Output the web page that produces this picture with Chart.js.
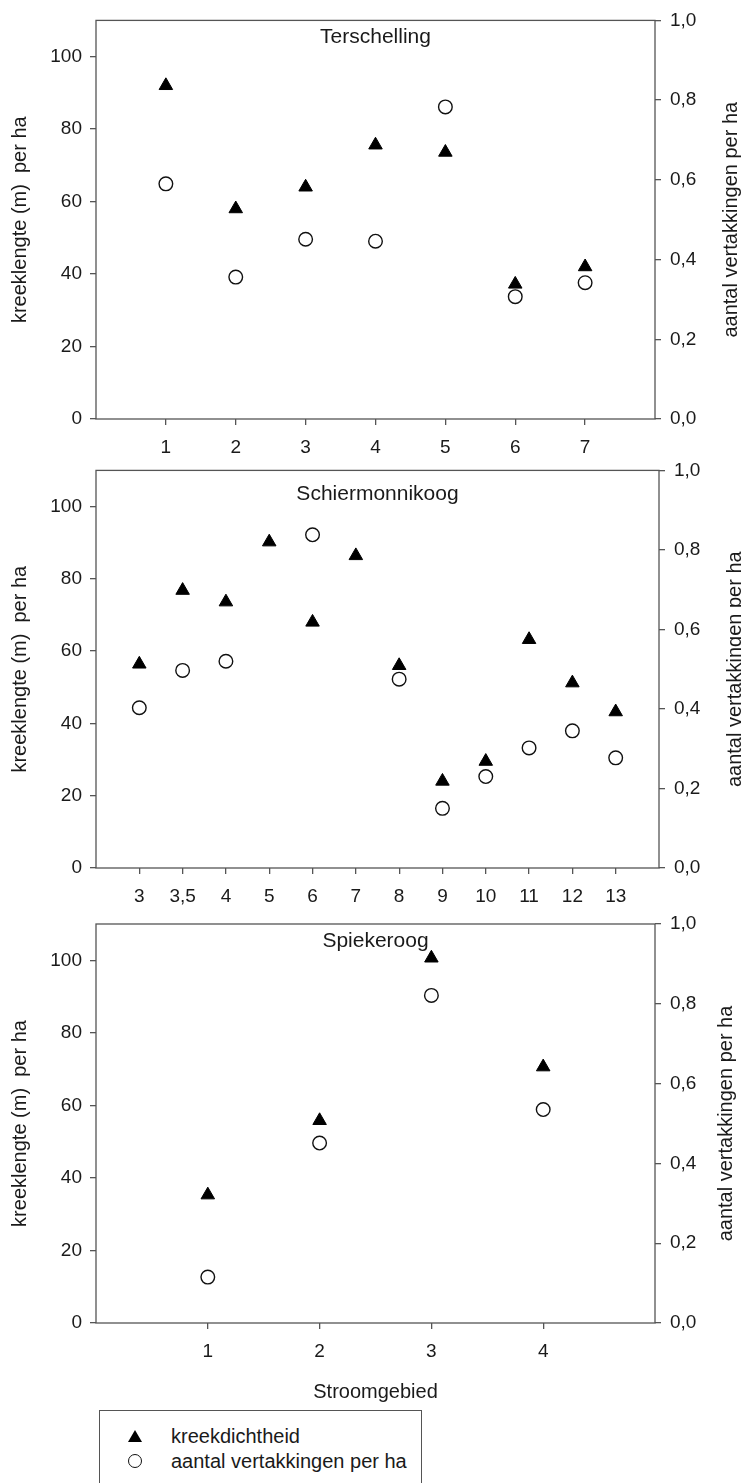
<!DOCTYPE html>
<html>
<head>
<meta charset="utf-8">
<script src="https://cdn.jsdelivr.net/npm/chart.js@4.4.1/dist/chart.umd.min.js"></script>
<style>
  body { margin: 0; background: #fff; width: 741px; height: 1483px; position: relative; overflow: hidden;
         font-family: "Liberation Sans", Arial, sans-serif; color: #1a1a1a; }
  canvas { position: absolute; left: 0; }
  #legend { position: absolute; left: 99px; top: 1410px; width: 323px; height: 100px;
            border: 1.3px solid #555; box-sizing: border-box; }
  .item { position: absolute; left: 0; height: 24px; font-size: 20px; line-height: 24px; }
  .item span { position: absolute; left: 71px; white-space: nowrap; }
  .tri { position: absolute; left: 28px; top: 6px; width: 0; height: 0;
         border-left: 7px solid transparent; border-right: 7px solid transparent; border-bottom: 12px solid #000; }
  .circ { position: absolute; left: 28px; top: 5px; width: 12px; height: 12px; border: 1.4px solid #111; border-radius: 50%; }
</style>
</head>
<body>
<canvas id="terschelling" width="741" height="460" style="top:0"></canvas>
<canvas id="schiermonnikoog" width="741" height="460" style="top:450px"></canvas>
<canvas id="spiekeroog" width="741" height="502" style="top:900px"></canvas>
<div id="legend">
  <div class="item" style="top:13px"><div class="tri"></div><span>kreekdichtheid</span></div>
  <div class="item" style="top:38px"><div class="circ"></div><span>aantal vertakkingen per ha</span></div>
</div>
<script>
// values
const terschellingCategories = ["1", "2", "3", "4", "5", "6", "7"];
const terschellingDensity = [92, 58, 64, 75.6, 73.6, 37.2, 42];
const terschellingBranches = [0.59, 0.356, 0.451, 0.446, 0.783, 0.307, 0.342];

const schierCategories = ["3", "3,5", "4", "5", "6", "7", "8", "9", "10", "11", "12", "13"];
const schierDensity = [56.4, 76.8, 73.6, 90.2, 68, 86.4, 56, 24, 29.5, 63.2, 51.2, 43.2];
const schierBranches = [0.403, 0.497, 0.52, null, 0.838, null, 0.475, 0.15, 0.23, 0.302, 0.345, 0.277];

const spiekerCategories = ["1", "2", "3", "4"];
const spiekerDensity = [35.3, 55.8, 100.6, 70.6];
const spiekerBranches = [0.115, 0.451, 0.821, 0.535];

const leftTicks = [0, 20, 40, 60, 80, 100];
const rightTicks = [0, 0.2, 0.4, 0.6, 0.8, 1.0];

const AXIS = "#555";
const TEXT = "#1a1a1a";
const FONT = "'Liberation Sans', Arial, sans-serif";

function toPoints(values) {
  return values
    .map((v, i) => ({ x: i + 1, y: v }))
    .filter((p) => p.y !== null);
}

const framePlugin = {
  id: "frame",
  beforeDatasetsDraw(chart) {
    const { ctx, chartArea: a } = chart;
    ctx.save();
    ctx.strokeStyle = AXIS;
    ctx.lineWidth = 1.3;
    ctx.strokeRect(a.left, a.top, a.right - a.left, a.bottom - a.top);
    ctx.restore();
  },
};

const panelTextPlugin = {
  id: "panelText",
  afterDraw(chart, args, opts) {
    const { ctx, chartArea: a } = chart;
    ctx.save();
    ctx.fillStyle = TEXT;
    ctx.font = `21px ${FONT}`;
    ctx.textAlign = "center";
    ctx.textBaseline = "alphabetic";
    ctx.fillText(opts.title, (a.left + a.right) / 2, a.top + opts.titleDrop);
    // right axis title reads bottom-to-top like the left one
    ctx.font = `20px ${FONT}`;
    ctx.textBaseline = "middle";
    ctx.translate(opts.rightX, (a.top + a.bottom) / 2);
    ctx.rotate(-Math.PI / 2);
    ctx.fillText("aantal vertakkingen per ha", 0, 0);
    ctx.restore();
  },
};

function makePanel(canvasId, p) {
  const cats = p.categories;
  return new Chart(document.getElementById(canvasId), {
    type: "scatter",
    data: {
      datasets: [
        {
          label: "kreekdichtheid",
          data: toPoints(p.density),
          yAxisID: "y",
          pointStyle: "triangle",
          pointRadius: 7.8,
          backgroundColor: "#000",
          borderColor: "#000",
          borderWidth: 1,
        },
        {
          label: "aantal vertakkingen per ha",
          data: toPoints(p.branches),
          yAxisID: "y2",
          pointStyle: "circle",
          pointRadius: 6.8,
          backgroundColor: "#fff",
          borderColor: "#111",
          borderWidth: 1.4,
        },
      ],
    },
    options: {
      responsive: false,
      animation: false,
      layout: { padding: { top: p.top, left: 0, right: 0, bottom: 0 } },
      plugins: {
        legend: { display: false },
        tooltip: { enabled: false },
        panelText: { title: p.title, titleDrop: p.titleDrop, rightX: p.rightX },
      },
      scales: {
        x: {
          type: "linear",
          min: 0,
          max: cats.length + 1,
          afterBuildTicks(s) {
            s.ticks = cats.map((c, i) => ({ value: i + 1 }));
          },
          afterFit(s) {
            s.height = p.xHeight;
          },
          ticks: {
            autoSkip: false,
            maxRotation: 0,
            padding: 11,
            color: TEXT,
            font: { family: FONT, size: 19 },
            callback: (v) => cats[v - 1] ?? "",
          },
          grid: { drawOnChartArea: false, drawTicks: true, tickLength: 6, color: AXIS, lineWidth: 1.3 },
          border: { display: false },
          title: {
            display: !!p.xTitle,
            text: p.xTitle || "",
            color: TEXT,
            font: { family: FONT, size: 20, lineHeight: 1 },
            padding: { top: 0, bottom: 0 },
          },
        },
        y: {
          position: "left",
          min: 0,
          max: 110,
          afterBuildTicks(s) {
            s.ticks = leftTicks.map((v) => ({ value: v }));
          },
          afterFit(s) {
            s.width = 96;
          },
          ticks: { padding: 8, color: TEXT, font: { family: FONT, size: 19 } },
          grid: { drawOnChartArea: false, drawTicks: true, tickLength: 6, color: AXIS, lineWidth: 1.3 },
          border: { display: false },
          title: {
            display: true,
            text: "kreeklengte (m)  per ha",
            color: TEXT,
            font: { family: FONT, size: 20, lineHeight: 1 },
            padding: { top: 10, bottom: 0 },
          },
        },
        y2: {
          position: "right",
          min: 0,
          max: 1,
          afterBuildTicks(s) {
            s.ticks = rightTicks.map((v) => ({ value: v }));
          },
          afterFit(s) {
            s.width = 741 - p.right;
          },
          ticks: {
            padding: 9,
            color: TEXT,
            font: { family: FONT, size: 19 },
            callback: (v) => v.toFixed(1).replace(".", ","),
          },
          grid: { drawOnChartArea: false, drawTicks: true, tickLength: 6, color: AXIS, lineWidth: 1.3 },
          border: { display: false },
        },
      },
    },
    plugins: [framePlugin, panelTextPlugin],
  });
}

makePanel("terschelling", {
  title: "Terschelling",
  categories: terschellingCategories,
  density: terschellingDensity,
  branches: terschellingBranches,
  top: 17, xHeight: 460 - 419, right: 655, titleDrop: 23, rightX: 731,
});

makePanel("schiermonnikoog", {
  title: "Schiermonnikoog",
  categories: schierCategories,
  density: schierDensity,
  branches: schierBranches,
  top: 16, xHeight: 460 - 418, right: 659, titleDrop: 30, rightX: 735,
});

makePanel("spiekeroog", {
  title: "Spiekeroog",
  categories: spiekerCategories,
  density: spiekerDensity,
  branches: spiekerBranches,
  top: 24, xHeight: 502 - 423, right: 655, titleDrop: 23, rightX: 726, xTitle: "Stroomgebied",
});
</script>
</body>
</html>
